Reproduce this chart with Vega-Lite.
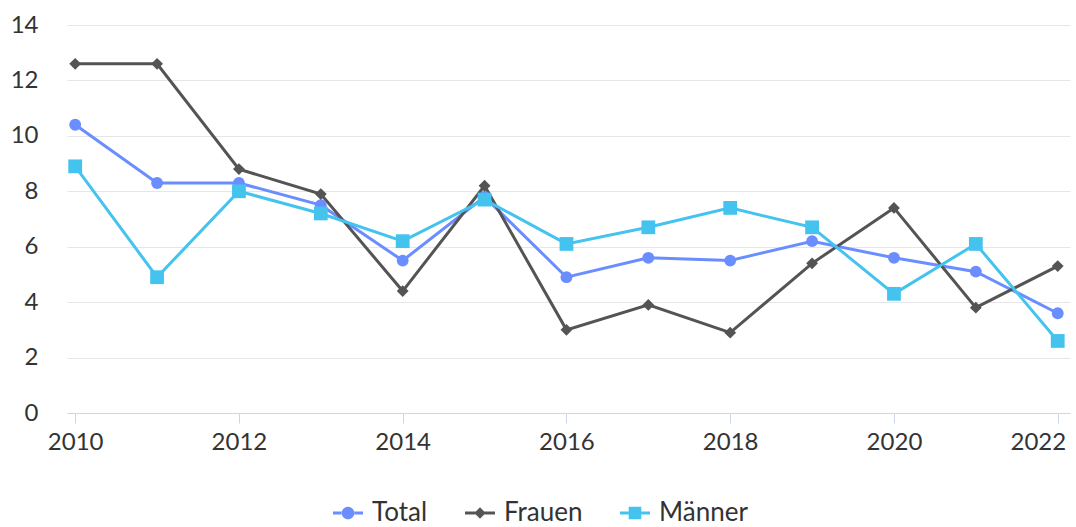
{
  "$schema": "https://vega.github.io/schema/vega-lite/v6.json",
  "width": 1003,
  "height": 388,
  "autosize": {"type": "none"},
  "padding": {"left": 67, "top": 25, "right": 6, "bottom": 114},
  "background": "white",
  "config": {
    "view": {"stroke": null},
    "font": "Lato",
    "axis": {"labelFont": "Lato", "labelFontSize": 24, "labelColor": "#333333"},
    "legend": {"labelFont": "Lato", "labelFontSize": 26, "labelColor": "#333333"}
  },
  "data": {
    "values": [
      {"year": 2010, "serie": "Total", "value": 10.4},
      {"year": 2011, "serie": "Total", "value": 8.3},
      {"year": 2012, "serie": "Total", "value": 8.3},
      {"year": 2013, "serie": "Total", "value": 7.5},
      {"year": 2014, "serie": "Total", "value": 5.5},
      {"year": 2015, "serie": "Total", "value": 7.8},
      {"year": 2016, "serie": "Total", "value": 4.9},
      {"year": 2017, "serie": "Total", "value": 5.6},
      {"year": 2018, "serie": "Total", "value": 5.5},
      {"year": 2019, "serie": "Total", "value": 6.2},
      {"year": 2020, "serie": "Total", "value": 5.6},
      {"year": 2021, "serie": "Total", "value": 5.1},
      {"year": 2022, "serie": "Total", "value": 3.6},
      {"year": 2010, "serie": "Frauen", "value": 12.6},
      {"year": 2011, "serie": "Frauen", "value": 12.6},
      {"year": 2012, "serie": "Frauen", "value": 8.8},
      {"year": 2013, "serie": "Frauen", "value": 7.9},
      {"year": 2014, "serie": "Frauen", "value": 4.4},
      {"year": 2015, "serie": "Frauen", "value": 8.2},
      {"year": 2016, "serie": "Frauen", "value": 3.0},
      {"year": 2017, "serie": "Frauen", "value": 3.9},
      {"year": 2018, "serie": "Frauen", "value": 2.9},
      {"year": 2019, "serie": "Frauen", "value": 5.4},
      {"year": 2020, "serie": "Frauen", "value": 7.4},
      {"year": 2021, "serie": "Frauen", "value": 3.8},
      {"year": 2022, "serie": "Frauen", "value": 5.3},
      {"year": 2010, "serie": "Männer", "value": 8.9},
      {"year": 2011, "serie": "Männer", "value": 4.9},
      {"year": 2012, "serie": "Männer", "value": 8.0},
      {"year": 2013, "serie": "Männer", "value": 7.2},
      {"year": 2014, "serie": "Männer", "value": 6.2},
      {"year": 2015, "serie": "Männer", "value": 7.7},
      {"year": 2016, "serie": "Männer", "value": 6.1},
      {"year": 2017, "serie": "Männer", "value": 6.7},
      {"year": 2018, "serie": "Männer", "value": 7.4},
      {"year": 2019, "serie": "Männer", "value": 6.7},
      {"year": 2020, "serie": "Männer", "value": 4.3},
      {"year": 2021, "serie": "Männer", "value": 6.1},
      {"year": 2022, "serie": "Männer", "value": 2.6}
    ]
  },
  "encoding": {
    "x": {
      "field": "year",
      "type": "quantitative",
      "scale": {"domain": [2009.9, 2022.15], "nice": false, "zero": false},
      "axis": {
        "title": null,
        "values": [2010, 2012, 2014, 2016, 2018, 2020, 2022],
        "format": "d",
        "grid": false,
        "domainColor": "#ccd6eb",
        "domainWidth": 1,
        "tickColor": "#ccd6eb",
        "tickSize": 10,
        "labelPadding": 7,
        "labelFlush": false,
        "labelAlign": {"condition": {"test": "datum.value === 2022", "value": "right"}, "value": "center"},
        "labelOffset": {"condition": {"test": "datum.value === 2022", "value": 8}, "value": 0}
      }
    },
    "y": {
      "field": "value",
      "type": "quantitative",
      "scale": {"domain": [0, 14], "nice": false},
      "axis": {
        "title": null,
        "values": [0, 2, 4, 6, 8, 10, 12, 14],
        "domain": false,
        "ticks": false,
        "gridColor": "#e6e6e6",
        "gridWidth": 1,
        "labelPadding": 29
      }
    },
    "color": {
      "field": "serie",
      "type": "nominal",
      "sort": ["Total", "Frauen", "Männer"],
      "scale": {"domain": ["Total", "Frauen", "Männer"], "range": ["#6a8dff", "#545454", "#45c3ef"]},
      "legend": {
        "title": null,
        "orient": "none",
        "legendX": 266,
        "legendY": 473,
        "direction": "horizontal",
        "symbolSize": 900,
        "symbolStrokeWidth": 0,
        "symbolOpacity": 1,
        "symbolFillOpacity": 1,
        "labelOffset": 9,
        "columnPadding": 37
      }
    }
  },
  "layer": [
    {
      "mark": {"type": "point", "filled": true, "size": 0, "opacity": 1, "fillOpacity": 1},
      "encoding": {
        "shape": {
          "field": "serie",
          "type": "nominal",
          "scale": {
            "domain": ["Total", "Frauen", "Männer"],
            "range": [
              "M-1,-0.1H-0.4V0.1H-1Z M0.4,-0.1H1V0.1H0.4Z M-0.42,0A0.42,0.42 0 1,0 0.42,0A0.42,0.42 0 1,0 -0.42,0Z",
              "M-1,-0.1H-0.3V0.1H-1Z M0.3,-0.1H1V0.1H0.3Z M0,-0.38L0.38,0L0,0.38L-0.38,0Z",
              "M-1,-0.1H-0.4V0.1H-1Z M0.4,-0.1H1V0.1H0.4Z M-0.42,-0.42H0.42V0.42H-0.42Z"
            ]
          }
        }
      }
    },
    {
      "mark": {"type": "line", "strokeWidth": 3}
    },
    {
      "transform": [{"filter": "datum.serie === 'Total'"}],
      "mark": {"type": "point", "filled": true, "opacity": 1, "shape": "circle", "size": 140}
    },
    {
      "transform": [{"filter": "datum.serie === 'Frauen'"}],
      "mark": {"type": "point", "filled": true, "opacity": 1, "shape": "diamond", "size": 140}
    },
    {
      "transform": [{"filter": "datum.serie === 'Männer'"}],
      "mark": {"type": "point", "filled": true, "opacity": 1, "shape": "square", "size": 190}
    }
  ]
}
